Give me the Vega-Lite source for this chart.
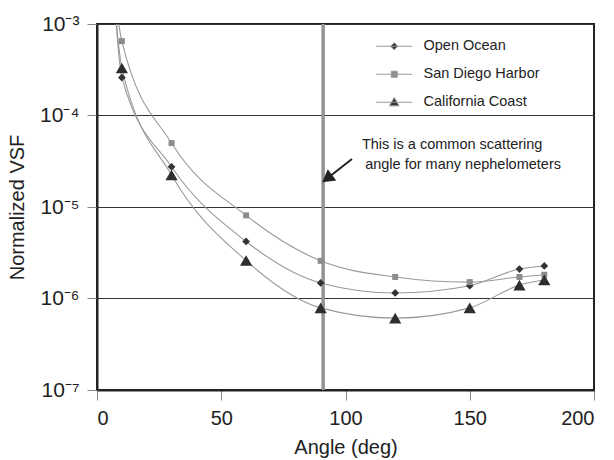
{
  "$schema": "https://vega.github.io/schema/vega-lite/v6.json",
  "autosize": "none",
  "padding": {"left": 97, "top": 24, "right": 20, "bottom": 70},
  "width": 497,
  "height": 366,
  "background": "white",
  "config": {
    "font": "Liberation Sans",
    "view": {"stroke": "#222", "strokeWidth": 2},
    "axis": {"labelFont": "Liberation Sans", "titleFont": "Liberation Sans", "titleFontWeight": "normal", "labelColor": "#222", "titleColor": "#222"}
  },
  "datasets": {
    "vsf": [
      {"angle": 7, "value": 0.0018, "series": "Open Ocean"},
      {"angle": 10, "value": 0.00026, "series": "Open Ocean"},
      {"angle": 30, "value": 0.0000275, "series": "Open Ocean"},
      {"angle": 60, "value": 0.0000042, "series": "Open Ocean"},
      {"angle": 90, "value": 0.00000148, "series": "Open Ocean"},
      {"angle": 120, "value": 0.00000115, "series": "Open Ocean"},
      {"angle": 150, "value": 0.00000138, "series": "Open Ocean"},
      {"angle": 170, "value": 0.0000021, "series": "Open Ocean"},
      {"angle": 180, "value": 0.00000227, "series": "Open Ocean"},
      {"angle": 7, "value": 0.0022, "series": "San Diego Harbor"},
      {"angle": 10, "value": 0.00065, "series": "San Diego Harbor"},
      {"angle": 30, "value": 0.00005, "series": "San Diego Harbor"},
      {"angle": 60, "value": 0.0000081, "series": "San Diego Harbor"},
      {"angle": 90, "value": 0.00000258, "series": "San Diego Harbor"},
      {"angle": 120, "value": 0.00000172, "series": "San Diego Harbor"},
      {"angle": 150, "value": 0.00000151, "series": "San Diego Harbor"},
      {"angle": 170, "value": 0.00000172, "series": "San Diego Harbor"},
      {"angle": 180, "value": 0.00000182, "series": "San Diego Harbor"},
      {"angle": 7, "value": 0.0018, "series": "California Coast"},
      {"angle": 10, "value": 0.00033, "series": "California Coast"},
      {"angle": 30, "value": 0.0000224, "series": "California Coast"},
      {"angle": 60, "value": 0.0000026, "series": "California Coast"},
      {"angle": 90, "value": 0.00000079, "series": "California Coast"},
      {"angle": 120, "value": 0.00000061, "series": "California Coast"},
      {"angle": 150, "value": 0.00000079, "series": "California Coast"},
      {"angle": 170, "value": 0.0000014, "series": "California Coast"},
      {"angle": 180, "value": 0.0000016, "series": "California Coast"}
    ],
    "notes": [
      {"angle": 106.6, "value": 0.000048, "text": "This is a common scattering"},
      {"angle": 107.9, "value": 0.0000288, "text": "angle for many nephelometers"}
    ],
    "arrow": [
      {"angle": 102.6, "value": 0.0000335, "angle2": 92.6, "value2": 0.0000205}
    ],
    "ref": [{"angle": 91}]
  },
  "layer": [
    {
      "data": {"name": "ref"},
      "mark": {"type": "rule", "color": "#939393", "strokeWidth": 3.5},
      "encoding": {
        "x": {"field": "angle", "type": "quantitative", "scale": {"domain": [0, 200], "nice": false}}
      }
    },
    {
      "data": {"name": "vsf"},
      "mark": {"type": "line", "interpolate": "monotone", "clip": true, "strokeWidth": 1.1},
      "encoding": {
        "x": {"field": "angle", "type": "quantitative", "scale": {"domain": [0, 200], "nice": false},
          "axis": {"values": [0, 50, 100, 150, 200], "title": "Angle (deg)", "labelFontSize": 20, "titleFontSize": 20, "tickSize": 10, "tickColor": "#888", "domainColor": "#222", "domainWidth": 2, "labelPadding": 8, "titlePadding": 9, "grid": false}},
        "y": {"field": "value", "type": "quantitative",
          "scale": {"type": "log", "domain": [1e-7, 0.001], "nice": false},
          "axis": {"values": [1e-7, 1e-6, 1e-5, 1e-4, 1e-3], "title": "Normalized VSF", "labelFontSize": 21, "titleFontSize": 20, "tickSize": 10, "tickColor": "#888", "domainColor": "#222", "domainWidth": 2, "labelPadding": 8, "titlePadding": 12, "grid": true, "gridColor": "#333", "gridWidth": 1.2, "gridOpacity": 1,
            "labelExpr": "'10⁻' + ['⁰','¹','²','³','⁴','⁵','⁶','⁷'][round(-log(datum.value)/LN10)]"}},
        "stroke": {"field": "series", "type": "nominal",
          "scale": {"domain": ["Open Ocean", "San Diego Harbor", "California Coast"], "range": ["#9a9a9a", "#9a9a9a", "#9a9a9a"]},
          "legend": {"title": null, "orient": "none", "legendX": 290, "legendY": 15, "symbolSize": 144, "labelFontSize": 14.5, "labelFont": "Liberation Sans", "labelColor": "#222", "labelOffset": 22, "rowPadding": 13, "padding": 0,
            "encode": {"symbols": {"update": {
              "shape": {"signal": "datum.value == 'Open Ocean' ? 'M-3,0H3M0,-0.6L0.6,0L0,0.6L-0.6,0Z' : datum.value == 'San Diego Harbor' ? 'M-3,0H3M-0.5,-0.5H0.5V0.5H-0.5Z' : 'M-3,0H3M0,-0.8L0.8,0.6H-0.8Z'"},
              "fill": {"signal": "datum.value == 'San Diego Harbor' ? '#8c8c8c' : '#333333'"},
              "fillOpacity": {"value": 1},
              "size": {"value": 144},
              "strokeWidth": {"value": 1}
            }}}}
        }
      }
    },
    {
      "data": {"name": "vsf"},
      "transform": [{"filter": "datum.series == 'Open Ocean'"}],
      "mark": {"type": "point", "shape": "diamond", "filled": true, "clip": true, "opacity": 1, "color": "#333333", "size": 60},
      "encoding": {
        "x": {"field": "angle", "type": "quantitative"},
        "y": {"field": "value", "type": "quantitative"}
      }
    },
    {
      "data": {"name": "vsf"},
      "transform": [{"filter": "datum.series == 'San Diego Harbor'"}],
      "mark": {"type": "point", "shape": "square", "filled": true, "clip": true, "opacity": 1, "color": "#8c8c8c", "size": 36},
      "encoding": {
        "x": {"field": "angle", "type": "quantitative"},
        "y": {"field": "value", "type": "quantitative"}
      }
    },
    {
      "data": {"name": "vsf"},
      "transform": [{"filter": "datum.series == 'California Coast'"}],
      "mark": {"type": "point", "shape": "triangle-up", "filled": true, "clip": true, "opacity": 1, "color": "#2e2e2e", "size": 150},
      "encoding": {
        "x": {"field": "angle", "type": "quantitative"},
        "y": {"field": "value", "type": "quantitative"}
      }
    },
    {
      "data": {"name": "arrow"},
      "mark": {"type": "rule", "color": "#222", "strokeWidth": 2},
      "encoding": {
        "x": {"field": "angle", "type": "quantitative"},
        "y": {"field": "value", "type": "quantitative"},
        "x2": {"field": "angle2"},
        "y2": {"field": "value2"}
      }
    },
    {
      "data": {"name": "arrow"},
      "mark": {"type": "point", "shape": "triangle-up", "filled": true, "color": "#222", "size": 200, "angle": 233, "opacity": 1},
      "encoding": {
        "x": {"field": "angle2", "type": "quantitative"},
        "y": {"field": "value2", "type": "quantitative"}
      }
    },
    {
      "data": {"name": "notes"},
      "mark": {"type": "text", "align": "left", "baseline": "middle", "fontSize": 14.5, "font": "Liberation Sans", "color": "#222"},
      "encoding": {
        "x": {"field": "angle", "type": "quantitative"},
        "y": {"field": "value", "type": "quantitative"},
        "text": {"field": "text"}
      }
    }
  ]
}
